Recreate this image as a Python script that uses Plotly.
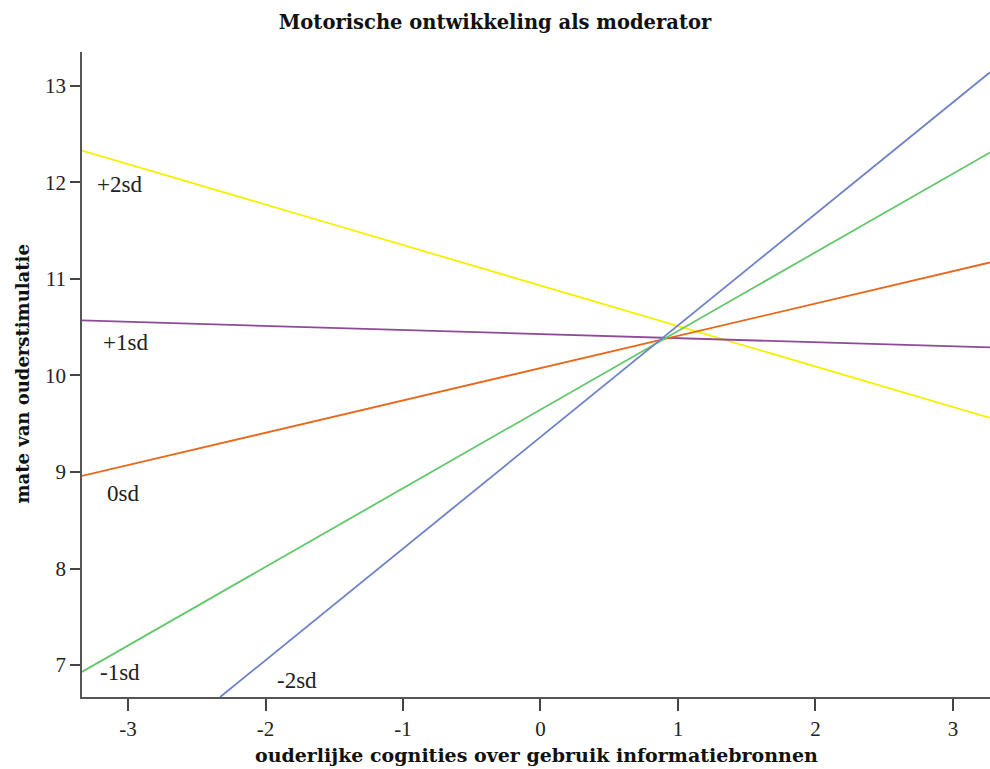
import plotly.graph_objects as go

# Lines (endpoints)
labels = ["+2sd", "+1sd", "0sd", "-1sd", "-2sd"]
colors = ["#f5f000", "#8e4a99", "#e8691c", "#63c86b", "#6f82c9"]
x_start = [-3.335, -3.335, -3.335, -3.335, -2.33]
x_end = [3.27, 3.27, 3.27, 3.27, 3.27]
y_start = [12.33, 10.57, 8.96, 6.93, 6.67]
y_end = [9.56, 10.29, 11.17, 12.31, 13.14]

# label positions (data coords)
label_x = [-3.06, -3.02, -3.04, -3.06, -1.77]
label_y = [11.98, 10.34, 8.78, 6.92, 6.84]

x_ticks = [-3, -2, -1, 0, 1, 2, 3]
y_ticks = [7, 8, 9, 10, 11, 12, 13]

font = "DejaVu Serif"
fig = go.Figure()
for i in range(len(labels)):
    fig.add_trace(go.Scatter(x=[x_start[i], x_end[i]], y=[y_start[i], y_end[i]],
                             mode="lines", line=dict(color=colors[i], width=1.8),
                             showlegend=False, hoverinfo="skip"))
for i in range(len(labels)):
    fig.add_annotation(x=label_x[i], y=label_y[i], text=labels[i], showarrow=False,
                       xanchor="center", yanchor="middle",
                       font=dict(family="Liberation Serif", size=23, color="#222"))

fig.add_annotation(text="<b>ouderlijke cognities over gebruik informatiebronnen</b>",
                   x=0.5, xref="paper", y=0, yref="paper", yanchor="middle", xanchor="center",
                   yshift=-58, showarrow=False,
                   font=dict(family=font, size=19, color="#111"))
fig.add_annotation(text="<b>mate van ouderstimulatie</b>", textangle=-90,
                   x=0, xref="paper", y=0.5, yref="paper", xanchor="center", yanchor="middle",
                   xshift=-60, showarrow=False,
                   font=dict(family=font, size=18, color="#111"))

fig.update_layout(
    width=990, height=769,
    margin=dict(l=82, r=0, t=52, b=72),
    paper_bgcolor="white", plot_bgcolor="white",
    title=dict(text="<b>Motorische ontwikkeling als moderator</b>", x=0.5, xref="container",
               y=1 - 22 / 769, yref="container", xanchor="center", yanchor="middle",
               font=dict(family=font, size=19.5, color="#111")),
    xaxis=dict(range=[-3.335, 3.27], tickvals=x_ticks, ticktext=[str(v) for v in x_ticks],
               showgrid=False, zeroline=False, showline=True, linecolor="#555", linewidth=1.5,
               ticks="outside", ticklen=12, tickwidth=1.5, tickcolor="#444", automargin=False,
               tickfont=dict(family="Liberation Serif", size=21, color="#222")),
    yaxis=dict(range=[6.67, 13.35], tickvals=y_ticks, ticktext=[str(v) for v in y_ticks],
               showgrid=False, zeroline=False, showline=True, linecolor="#555", linewidth=1.5,
               ticks="outside", ticklen=10, tickwidth=1.5, tickcolor="#444", automargin=False,
               tickfont=dict(family="Liberation Serif", size=21, color="#222")),
)
fig.write_html("out.html", config={"displayModeBar": False},
               post_script="document.body.style.margin='0';document.body.style.overflow='hidden';")
